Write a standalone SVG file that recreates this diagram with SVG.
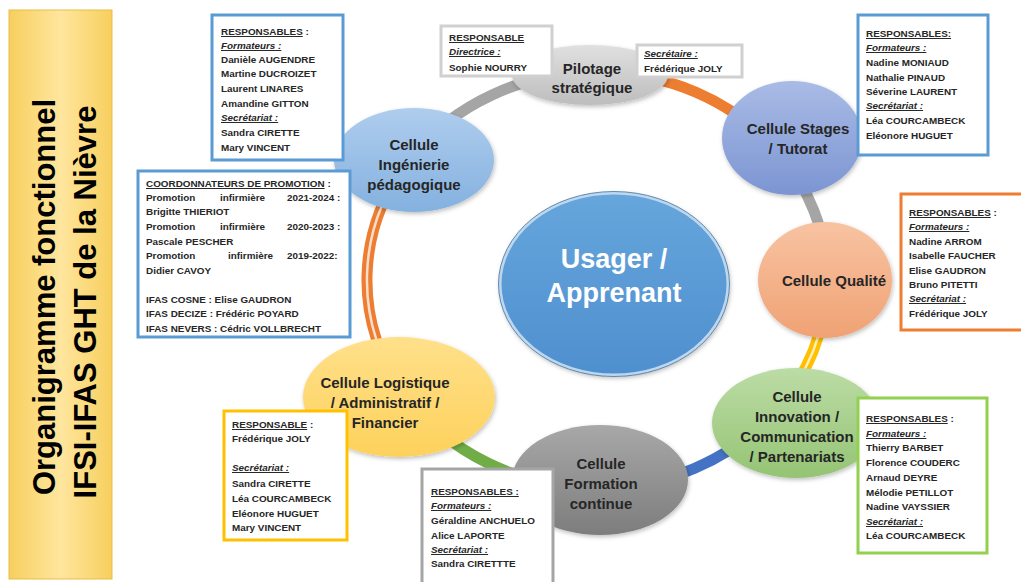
<svg xmlns="http://www.w3.org/2000/svg" width="1021" height="582" viewBox="0 0 1021 582">
<defs>
<linearGradient id="gTitle" x1="0" y1="0" x2="1" y2="0">
<stop offset="0" stop-color="#f7cf5e"/><stop offset="0.5" stop-color="#ffe69e"/><stop offset="1" stop-color="#f7cf5e"/>
</linearGradient>
<linearGradient id="gPil" x1="0" y1="0" x2="0" y2="1"><stop offset="0" stop-color="#e0e0e0"/><stop offset="1" stop-color="#bdbdbd"/></linearGradient>
<linearGradient id="gSta" x1="0" y1="0" x2="0" y2="1"><stop offset="0" stop-color="#a9bbe6"/><stop offset="1" stop-color="#7c95d2"/></linearGradient>
<linearGradient id="gQua" x1="0" y1="0" x2="0" y2="1"><stop offset="0" stop-color="#f8c3a2"/><stop offset="1" stop-color="#f0a274"/></linearGradient>
<linearGradient id="gInn" x1="0" y1="0" x2="0" y2="1"><stop offset="0" stop-color="#bcdca6"/><stop offset="1" stop-color="#95c474"/></linearGradient>
<linearGradient id="gFor" x1="0" y1="0" x2="0" y2="1"><stop offset="0" stop-color="#a8a8a8"/><stop offset="1" stop-color="#7d7d7d"/></linearGradient>
<linearGradient id="gLog" x1="0" y1="0" x2="0" y2="1"><stop offset="0" stop-color="#ffe08a"/><stop offset="1" stop-color="#fdd15c"/></linearGradient>
<linearGradient id="gIng" x1="0" y1="0" x2="0" y2="1"><stop offset="0" stop-color="#afcdee"/><stop offset="1" stop-color="#84b1df"/></linearGradient>
<linearGradient id="gUsa" x1="0" y1="0" x2="0" y2="1"><stop offset="0" stop-color="#66a6dc"/><stop offset="1" stop-color="#4f8fcf"/></linearGradient>
<filter id="sh" x="-20%" y="-20%" width="140%" height="140%">
<feDropShadow dx="1" dy="2" stdDeviation="2" flood-color="#000" flood-opacity="0.25"/>
</filter>
</defs>
<style>
.ring{fill:none;stroke-width:11;stroke-linecap:butt}
.stripe{fill:none;stroke:#fff;stroke-width:2.5;stroke-opacity:0.75}
.cell{font-family:"Liberation Sans",Arial,sans-serif;font-weight:bold;font-size:15px;fill:#262626;text-anchor:middle}
.box{fill:#fff;stroke-width:3}
.bt{font-family:"Liberation Sans",Arial,sans-serif;font-weight:bold;font-size:9.9px;fill:#262626}
.u{text-decoration:underline}
.i{font-style:italic;text-decoration:underline}
</style>
<rect width="1021" height="582" fill="#fff"/>

<g id="title">
<rect x="9" y="10" width="103" height="569" fill="url(#gTitle)" stroke="#e9bd45" stroke-width="1"/>
<text transform="translate(55,297) rotate(-90)" text-anchor="middle" font-family="'Liberation Sans',Arial,sans-serif" font-weight="bold" font-size="31" fill="#000">Organigramme fonctionnel</text>
<text transform="translate(96,302) rotate(-90)" text-anchor="middle" font-family="'Liberation Sans',Arial,sans-serif" font-weight="bold" font-size="31" fill="#000">IFSI-IFAS GHT de la Nièvre</text>
</g>

<g id="connectors">
<path class="ring" stroke="#ed7d31" d="M597,72 A230,208 0 0 1 775.7,149.1"/>
<path class="ring" stroke="#a5a5a5" d="M775.7,149.1 A230,208 0 0 1 827,280"/>
<path class="ring" stroke="#ffc000" d="M827,280 A230,208 0 0 1 773.2,413.7"/>
<path class="stripe" d="M827,280 A230,208 0 0 1 773.2,413.7"/>
<path class="ring" stroke="#4472c4" d="M773.2,413.7 A230,208 0 0 1 597,488"/>
<path class="ring" stroke="#70ad47" d="M597,488 A230,208 0 0 1 404.1,393.3"/>
<path class="ring" stroke="#ed7d31" d="M404.1,393.3 A230,208 0 0 1 410.9,157.7"/>
<path class="stripe" d="M404.1,393.3 A230,208 0 0 1 410.9,157.7"/>
<path class="ring" stroke="#a5a5a5" d="M410.9,157.7 A230,208 0 0 1 597,72"/>
</g>

<g id="usager">
<ellipse cx="614" cy="284" rx="114" ry="91" fill="url(#gUsa)" stroke="#bdd7ee" stroke-width="3" filter="url(#sh)"/>
<ellipse cx="614" cy="284" rx="115.5" ry="92.5" fill="none" stroke="#41719c" stroke-width="0.8"/>
<text x="614" y="268" text-anchor="middle" font-family="'Liberation Sans',Arial,sans-serif" font-weight="bold" font-size="27" fill="#fff">Usager /</text>
<text x="614" y="302" text-anchor="middle" font-family="'Liberation Sans',Arial,sans-serif" font-weight="bold" font-size="27" fill="#fff">Apprenant</text>
</g>

<g id="pilotage">
<ellipse cx="590" cy="75" rx="78" ry="30" fill="url(#gPil)" filter="url(#sh)"/>
<text class="cell" x="592" y="74">Pilotage</text>
<text class="cell" x="592" y="93">stratégique</text>
</g>
<g id="stages">
<ellipse cx="792" cy="138" rx="70" ry="57" fill="url(#gSta)" filter="url(#sh)"/>
<text class="cell" x="798" y="134">Cellule Stages</text>
<text class="cell" x="798" y="154">/ Tutorat</text>
</g>
<g id="qualite">
<ellipse cx="825" cy="280" rx="67" ry="58" fill="url(#gQua)" filter="url(#sh)"/>
<text class="cell" x="834" y="286">Cellule Qualité</text>
</g>
<g id="innovation">
<ellipse cx="796" cy="423" rx="84" ry="55" fill="url(#gInn)" filter="url(#sh)"/>
<text class="cell" x="797" y="402">Cellule</text>
<text class="cell" x="797" y="422">Innovation /</text>
<text class="cell" x="797" y="442">Communication</text>
<text class="cell" x="797" y="462">/ Partenariats</text>
</g>
<g id="formation">
<ellipse cx="600" cy="480" rx="88" ry="55" fill="url(#gFor)" filter="url(#sh)"/>
<text class="cell" x="601" y="469">Cellule</text>
<text class="cell" x="601" y="489">Formation</text>
<text class="cell" x="601" y="509">continue</text>
</g>
<g id="logistique">
<ellipse cx="399" cy="397" rx="96" ry="60" fill="url(#gLog)" filter="url(#sh)"/>
<text class="cell" x="385" y="388">Cellule Logistique</text>
<text class="cell" x="385" y="408">/ Administratif  /</text>
<text class="cell" x="385" y="428">Financier</text>
</g>
<g id="ingenierie">
<ellipse cx="414" cy="160" rx="80" ry="52" fill="url(#gIng)" filter="url(#sh)"/>
<text class="cell" x="414" y="150">Cellule</text>
<text class="cell" x="414" y="170">Ingénierie</text>
<text class="cell" x="414" y="190">pédagogique</text>
</g>

<g id="box-ingenierie">
<rect class="box" x="212" y="15" width="131" height="145" stroke="#5b9bd5"/>
<text class="bt" x="221" y="35"><tspan class="u">RESPONSABLES</tspan> :</text>
<text class="bt" x="221" y="49"><tspan class="i">Formateurs :</tspan></text>
<text class="bt" x="221" y="63">Danièle AUGENDRE</text>
<text class="bt" x="221" y="77">Martine DUCROIZET</text>
<text class="bt" x="221" y="92">Laurent LINARES</text>
<text class="bt" x="221" y="107">Amandine GITTON</text>
<text class="bt" x="221" y="121"><tspan class="i">Secrétariat :</tspan></text>
<text class="bt" x="221" y="136">Sandra CIRETTE</text>
<text class="bt" x="221" y="151">Mary VINCENT</text>
</g>

<g id="box-pilotage">
<rect class="box" x="441" y="26" width="111" height="50" stroke="#d0d0d0"/>
<text class="bt" x="449" y="41"><tspan class="u">RESPONSABLE</tspan></text>
<text class="bt" x="449" y="55"><tspan class="i">Directrice :</tspan></text>
<text class="bt" x="449" y="71">Sophie NOURRY</text>
</g>
<g id="box-secretaire">
<rect class="box" x="637" y="45" width="105" height="32" stroke="#d0d0d0"/>
<text class="bt" x="644" y="57"><tspan class="i">Secrétaire :</tspan></text>
<text class="bt" x="644" y="72">Frédérique JOLY</text>
</g>

<g id="box-stages">
<rect class="box" x="858" y="15" width="130" height="140" stroke="#5b9bd5"/>
<text class="bt" x="866" y="37"><tspan class="u">RESPONSABLES:</tspan></text>
<text class="bt" x="866" y="51"><tspan class="i">Formateurs :</tspan></text>
<text class="bt" x="866" y="66">Nadine MONIAUD</text>
<text class="bt" x="866" y="81">Nathalie PINAUD</text>
<text class="bt" x="866" y="95">Séverine LAURENT</text>
<text class="bt" x="866" y="109"><tspan class="i">Secrétariat :</tspan></text>
<text class="bt" x="866" y="124">Léa COURCAMBECK</text>
<text class="bt" x="866" y="139">Eléonore HUGUET</text>
</g>

<g id="box-coordination">
<rect class="box" x="138" y="171" width="212" height="166" stroke="#5b9bd5"/>
<text class="bt" x="146" y="187"><tspan class="u">COORDONNATEURS DE PROMOTION</tspan> :</text>
<text class="bt" y="201"><tspan x="146">Promotion</tspan><tspan x="220">infirmière</tspan><tspan x="287">2021-2024</tspan><tspan x="337">:</tspan></text>
<text class="bt" x="146" y="215">Brigitte THIERIOT</text>
<text class="bt" y="230"><tspan x="146">Promotion</tspan><tspan x="220">infirmière</tspan><tspan x="287">2020-2023</tspan><tspan x="337">:</tspan></text>
<text class="bt" x="146" y="245">Pascale PESCHER</text>
<text class="bt" y="259"><tspan x="146">Promotion</tspan><tspan x="228">infirmière</tspan><tspan x="287">2019-2022:</tspan></text>
<text class="bt" x="146" y="274">Didier CAVOY</text>
<text class="bt" x="146" y="303">IFAS COSNE : Elise GAUDRON</text>
<text class="bt" x="146" y="317">IFAS DECIZE : Frédéric POYARD</text>
<text class="bt" x="146" y="332">IFAS NEVERS : Cédric VOLLBRECHT</text>
</g>

<g id="box-qualite">
<rect class="box" x="901" y="194" width="125" height="136" stroke="#ed7d31"/>
<text class="bt" x="909" y="216"><tspan class="u">RESPONSABLES</tspan> :</text>
<text class="bt" x="909" y="230"><tspan class="i">Formateurs :</tspan></text>
<text class="bt" x="909" y="245">Nadine ARROM</text>
<text class="bt" x="909" y="259">Isabelle FAUCHER</text>
<text class="bt" x="909" y="274">Elise GAUDRON</text>
<text class="bt" x="909" y="288">Bruno PITETTI</text>
<text class="bt" x="909" y="302"><tspan class="i">Secrétariat :</tspan></text>
<text class="bt" x="909" y="317">Frédérique JOLY</text>
</g>

<g id="box-logistique">
<rect class="box" x="224" y="411" width="123" height="129" stroke="#ffc000"/>
<text class="bt" x="232" y="428"><tspan class="u">RESPONSABLE</tspan> :</text>
<text class="bt" x="232" y="442">Frédérique JOLY</text>
<text class="bt" x="232" y="471"><tspan class="i">Secrétariat :</tspan></text>
<text class="bt" x="232" y="487">Sandra CIRETTE</text>
<text class="bt" x="232" y="502">Léa COURCAMBECK</text>
<text class="bt" x="232" y="517">Eléonore HUGUET</text>
<text class="bt" x="232" y="531">Mary VINCENT</text>
</g>

<g id="box-formation">
<rect class="box" x="422" y="469" width="131" height="125" stroke="#a5a5a5"/>
<text class="bt" x="431" y="495"><tspan class="u">RESPONSABLES :</tspan></text>
<text class="bt" x="431" y="509"><tspan class="i">Formateurs :</tspan></text>
<text class="bt" x="431" y="524">Géraldine ANCHUELO</text>
<text class="bt" x="431" y="539">Alice LAPORTE</text>
<text class="bt" x="431" y="553"><tspan class="i">Secrétariat :</tspan></text>
<text class="bt" x="431" y="567">Sandra CIRETTTE</text>
</g>

<g id="box-innovation">
<rect class="box" x="858" y="398" width="129" height="155" stroke="#92d050"/>
<text class="bt" x="866" y="422"><tspan class="u">RESPONSABLES</tspan> :</text>
<text class="bt" x="866" y="437"><tspan class="i">Formateurs :</tspan></text>
<text class="bt" x="866" y="451">Thierry BARBET</text>
<text class="bt" x="866" y="466">Florence COUDERC</text>
<text class="bt" x="866" y="481">Arnaud DEYRE</text>
<text class="bt" x="866" y="496">Mélodie PETILLOT</text>
<text class="bt" x="866" y="510">Nadine VAYSSIER</text>
<text class="bt" x="866" y="525"><tspan class="i">Secrétariat :</tspan></text>
<text class="bt" x="866" y="539">Léa COURCAMBECK</text>
</g>
</svg>
